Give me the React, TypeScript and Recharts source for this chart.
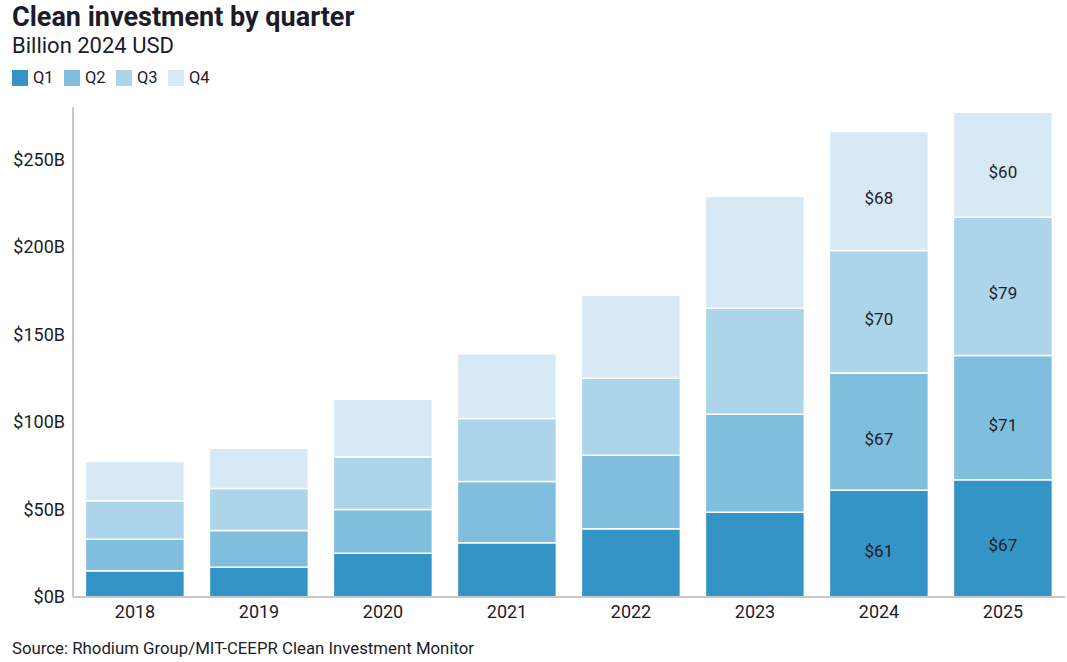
import { BarChart, Bar, XAxis, YAxis, LabelList } from 'recharts';

const YEARS = ['2018', '2019', '2020', '2021', '2022', '2023', '2024', '2025'];
const Q1 = [15, 17, 25, 31, 39, 48.5, 61, 67];
const Q2 = [18, 21, 25, 35, 42, 56, 67, 71];
const Q3 = [22, 24, 30, 36, 44, 60.5, 70, 79];
const Q4 = [22.5, 23, 33, 37, 47.5, 64, 68, 60];
const LABELED_YEARS = ['2024', '2025'];
const Y_TICKS = [0, 50, 100, 150, 200, 250];

const SERIES = [
  { key: 'q1', name: 'Q1', color: '#3494c6' },
  { key: 'q2', name: 'Q2', color: '#80bede' },
  { key: 'q3', name: 'Q3', color: '#acd4ea' },
  { key: 'q4', name: 'Q4', color: '#d6e9f5' }
];

const data = YEARS.map((year, i) => ({
  year,
  q1: Q1[i],
  q2: Q2[i],
  q3: Q3[i],
  q4: Q4[i]
}));

const FONT = 'Roboto, "Noto Sans", sans-serif';
const TEXT = '#1c1c28';

// only the last two years carry values inside the segments
const renderLabel = (props: any) => {
  const { x, y, width, height, value, index } = props;
  if (!LABELED_YEARS.includes(YEARS[index])) return null;
  return (
    <text
      x={Number(x) + Number(width) / 2}
      y={Number(y) + Number(height) / 2 + 7}
      textAnchor="middle"
      dominantBaseline="central"
      fill={TEXT}
      fontSize={17}
      fontFamily={FONT}
    >
      {`$${value}`}
    </text>
  );
};

export default function App() {
  return (
    <div
      style={{
        position: 'absolute',
        left: 0,
        top: 0,
        width: 1067,
        height: 662,
        background: '#fff',
        fontFamily: FONT,
        color: TEXT
      }}
    >
      <div style={{ position: 'absolute', left: 12, top: 0, fontSize: 27, fontWeight: 700, lineHeight: '34px' }}>
        Clean investment by quarter
      </div>
      <div style={{ position: 'absolute', left: 12, top: 33, fontSize: 22, lineHeight: '26px' }}>
        Billion 2024 USD
      </div>
      <div style={{ position: 'absolute', left: 12, top: 68, display: 'flex' }}>
        {SERIES.map((s) => (
          <div key={s.key} style={{ display: 'flex', alignItems: 'center', width: 52 }}>
            <span style={{ width: 16, height: 16, background: s.color, display: 'inline-block' }} />
            <span style={{ marginLeft: 5, fontSize: 16.5, lineHeight: '20px' }}>{s.name}</span>
          </div>
        ))}
      </div>

      <div style={{ position: 'absolute', left: 0, top: 100 }}>
        <BarChart
          width={1067}
          height={540}
          data={data}
          margin={{ top: 7, right: 2, left: 0, bottom: 13 }}
          barCategoryGap="10%"
        >
          <XAxis
            dataKey="year"
            tickLine={false}
            axisLine={{ stroke: '#c8c8c8', strokeWidth: 2 }}
            tick={{ fill: TEXT, fontSize: 18, fontFamily: FONT }}
            height={30}
          />
          <YAxis
            domain={[0, 280]}
            ticks={Y_TICKS}
            tickLine={false}
            axisLine={{ stroke: '#c8c8c8', strokeWidth: 2 }}
            tick={{ fill: TEXT, fontSize: 18, fontFamily: FONT }}
            tickFormatter={(v) => `$${v}B`}
            width={73}
          />
          {SERIES.map((s) => (
            <Bar
              key={s.key}
              dataKey={s.key}
              name={s.name}
              stackId="a"
              fill={s.color}
              stroke="#fff"
              strokeWidth={1.5}
              isAnimationActive={false}
            >
              <LabelList dataKey={s.key} content={renderLabel} />
            </Bar>
          ))}
        </BarChart>
      </div>

      <div style={{ position: 'absolute', left: 12, top: 638, fontSize: 16.8, lineHeight: '20px' }}>
        Source: Rhodium Group/MIT-CEEPR Clean Investment Monitor
      </div>
    </div>
  );
}
